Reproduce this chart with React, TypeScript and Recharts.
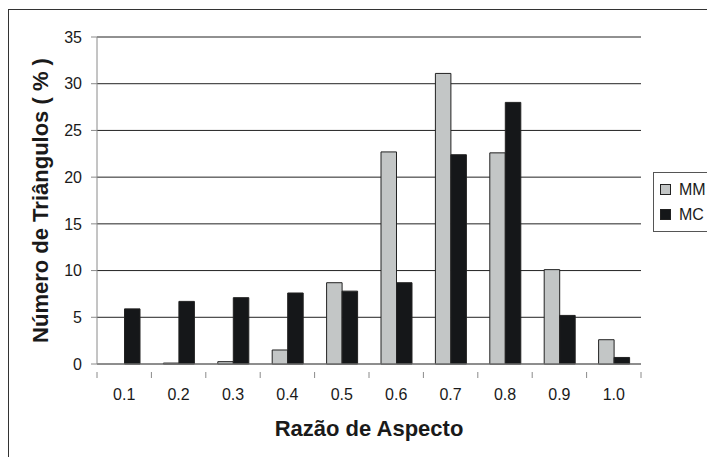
import { BarChart, Bar, XAxis, YAxis, CartesianGrid, Legend, Label } from 'recharts'

// aspect ratio classes and share of triangles (%) per mesh
const ratios = ['0.1', '0.2', '0.3', '0.4', '0.5', '0.6', '0.7', '0.8', '0.9', '1.0']
const mm = [0, 0.1, 0.25, 1.5, 8.7, 22.7, 31.1, 22.6, 10.1, 2.6]
const mc = [5.9, 6.7, 7.1, 7.6, 7.8, 8.7, 22.4, 28.0, 5.2, 0.7]
const yTicks = [0, 5, 10, 15, 20, 25, 30, 35]

const data = ratios.map((r, i) => ({ ratio: r, MM: mm[i], MC: mc[i] }))

const FONT = '"Liberation Sans", Arial, sans-serif'
const W = 707
const H = 457
const PLOT_LEFT = 97
const PLOT_RIGHT = 641
const BAND = (PLOT_RIGHT - PLOT_LEFT) / ratios.length
const AXIS_GRAY = '#8a8a8a'

function XTick(props: any) {
  const { x, y, payload, index } = props
  const left = x - BAND / 2
  return (
    <g>
      <line x1={left} y1={y} x2={left} y2={y + 6} stroke={AXIS_GRAY} />
      {index === ratios.length - 1 && (
        <line x1={left + BAND} y1={y} x2={left + BAND} y2={y + 6} stroke={AXIS_GRAY} />
      )}
      <text x={x} y={y + 28} textAnchor="middle" fontSize={16} fill="#1a1a1a" fontFamily={FONT}>
        {payload.value}
      </text>
    </g>
  )
}

function LegendBox() {
  const items = [
    { name: 'MM', color: '#c3c6c6' },
    { name: 'MC', color: '#151719' },
  ]
  return (
    <div
      style={{
        border: '1px solid #555',
        background: '#fff',
        padding: '4px 10px 4px 6px',
        width: 70,
        fontFamily: FONT,
        fontSize: 16,
        color: '#1a1a1a',
      }}
    >
      {items.map((it) => (
        <div key={it.name} style={{ display: 'flex', alignItems: 'center', height: 25 }}>
          <span
            style={{
              display: 'inline-block',
              width: 9,
              height: 9,
              background: it.color,
              border: '1px solid #222',
              marginRight: 8,
            }}
          />
          {it.name}
        </div>
      ))}
    </div>
  )
}

export default function App() {
  return (
    <div style={{ position: 'absolute', left: 0, top: 0, width: W, height: H, background: '#fff', overflow: 'hidden' }}>
      <div
        style={{
          position: 'absolute',
          left: 8,
          top: 9,
          width: W,
          height: H,
          borderTop: '1px solid #333',
          borderLeft: '1px solid #333',
        }}
      />
      <div style={{ position: 'absolute', left: 0, top: 0 }}>
        <BarChart
          width={W}
          height={H}
          data={data}
          margin={{ top: 37, right: W - PLOT_RIGHT, bottom: 43, left: 0 }}
          barGap={0}
          barSize={15.5}
        >
          <CartesianGrid vertical={false} stroke="#222" />
          <XAxis
            dataKey="ratio"
            height={50}
            tick={<XTick />}
            tickLine={false}
            axisLine={{ stroke: AXIS_GRAY }}
            interval={0}
          >
            <Label
              content={({ viewBox }: any) => (
                <text
                  x={viewBox.x + viewBox.width / 2}
                  y={viewBox.y + 72}
                  textAnchor="middle"
                  fontSize={22}
                  fontWeight="bold"
                  fill="#1a1a1a"
                  fontFamily={FONT}
                >
                  Razão de Aspecto
                </text>
              )}
            />
          </XAxis>
          <YAxis
            width={PLOT_LEFT}
            domain={[0, 35]}
            ticks={yTicks}
            interval={0}
            tickSize={6}
            tickLine={{ stroke: AXIS_GRAY }}
            axisLine={{ stroke: AXIS_GRAY }}
            tick={{ fontSize: 16, fill: '#1a1a1a', fontFamily: FONT }}
            tickMargin={9}
          >
            <Label
              content={({ viewBox }: any) => {
                const cx = 40
                const cy = viewBox.y + viewBox.height / 2
                return (
                  <text
                    x={cx}
                    y={cy}
                    transform={`rotate(-90 ${cx} ${cy})`}
                    textAnchor="middle"
                    dominantBaseline="central"
                    fontSize={22}
                    fontWeight="bold"
                    fill="#1a1a1a"
                    fontFamily={FONT}
                  >
                    Número de Triângulos ( % )
                  </text>
                )
              }}
            />
          </YAxis>
          <YAxis yAxisId="frame" orientation="right" width={0} tick={false} tickLine={false} axisLine={{ stroke: '#555' }} />
          <Legend
            layout="horizontal"
            verticalAlign="middle"
            align="center"
            content={<LegendBox />}
            wrapperStyle={{ position: 'absolute', left: 653, top: 172, width: 90 }}
          />
          <Bar dataKey="MM" fill="#c3c6c6" stroke="#222" strokeWidth={1} isAnimationActive={false} />
          <Bar dataKey="MC" fill="#151719" stroke="#222" strokeWidth={1} isAnimationActive={false} />
        </BarChart>
      </div>
    </div>
  )
}
